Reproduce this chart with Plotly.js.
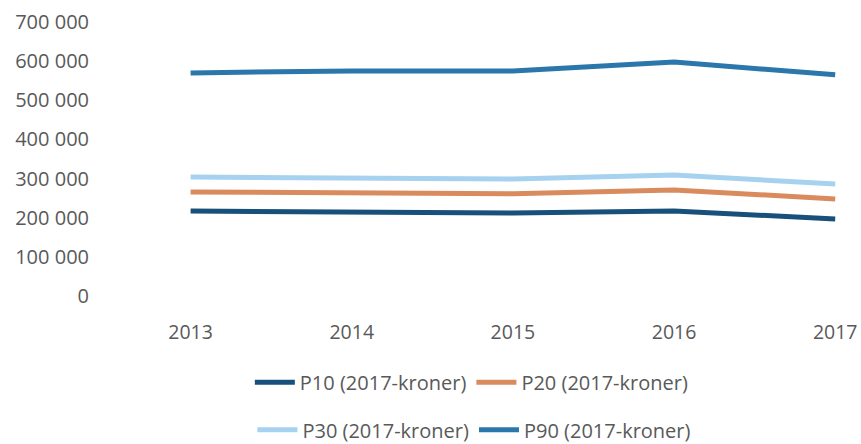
<!DOCTYPE html>
<html><head><meta charset="utf-8">
<script src="https://cdn.plot.ly/plotly-3.0.1.min.js"></script>
<style>html,body{margin:0;padding:0;background:#fff}#chart{width:861px;height:444px}</style>
</head><body><div id="chart"></div>
<script>
const years = ["2013","2014","2015","2016","2017"];
const p10 = [217000, 215000, 212000, 217000, 197000];
const p20 = [266000, 263000, 261000, 271000, 248000];
const p30 = [304000, 302000, 299000, 309000, 286000];
const p90 = [570000, 575000, 575000, 598000, 565000];
const seriesNames = ["P10 (2017-kroner)", "P20 (2017-kroner)", "P30 (2017-kroner)", "P90 (2017-kroner)"];
const yTicks = [0, 100000, 200000, 300000, 400000, 500000, 600000, 700000];

const colors = ["#17507a", "#d98b5d", "#a6d2ef", "#2b76ab"];
const font = {family: "'Open Sans', sans-serif", size: 20, color: "#595959"};
function tr(y, i, leg) {
  return {x: years, y: y, name: seriesNames[i], type: "scatter", mode: "lines",
    line: {color: colors[i], width: 5}, legend: leg};
}
const data = [tr(p10,0,"legend"), tr(p20,1,"legend"), tr(p30,2,"legend2"), tr(p90,3,"legend2")];
const legBase = {orientation: "h", xref: "container", yref: "container", xanchor: "center", yanchor: "middle",
  font: font, bgcolor: "rgba(0,0,0,0)", itemwidth: 40, tracegroupgap: 0};
const layout = {
  width: 861, height: 444,
  margin: {l: 110, r: 0, t: 22, b: 148},
  paper_bgcolor: "#fff", plot_bgcolor: "#fff",
  font: font,
  separators: ", ",
  showlegend: true,
  xaxis: {type: "category", range: [-0.5, 4.16], showgrid: false, zeroline: false, showline: false,
    ticks: "", ticklabelstandoff: 22, tickfont: Object.assign({}, font, {size: 19.5})},
  yaxis: {range: [0, 700000], tickvals: yTicks, tickformat: ",d", showgrid: false, zeroline: false,
    showline: false, ticks: "", ticklabelstandoff: 20, tickfont: font},
  legend: Object.assign({}, legBase, {x: 0.548, y: 0.139}),
  legend2: Object.assign({}, legBase, {x: 0.551, y: 0.032})
};
Plotly.newPlot("chart", data, layout, {displayModeBar: false, staticPlot: true});
</script></body></html>
